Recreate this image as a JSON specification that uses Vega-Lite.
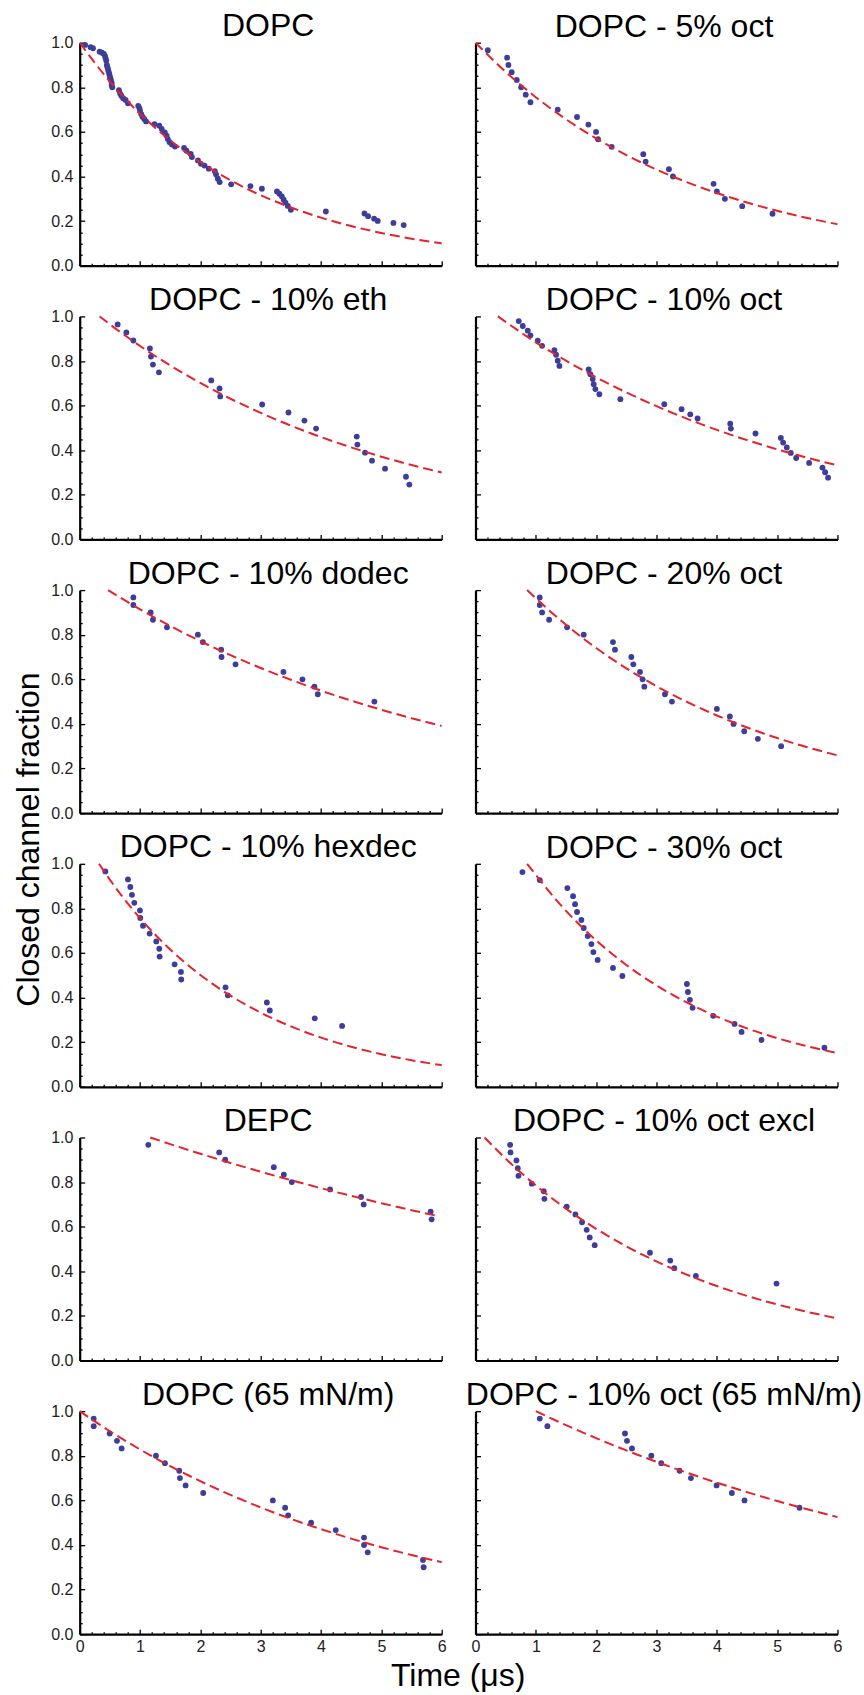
{
"$schema": "https://vega.github.io/schema/vega-lite/v6.json",
"padding": {"left": 11.7, "top": 9.7, "right": 0, "bottom": 0},
"bounds": "flush",
"columns": 2,
"spacing": {"row": 50.7, "column": 33.8},
"datasets": {
"pts": [
{"p":1,"t":0.09,"f":0.99},{"p":1,"t":0.18,"f":0.98},{"p":1,"t":0.22,"f":0.975},{"p":1,"t":0.33,"f":0.96},{"p":1,"t":0.37,"f":0.955},{"p":1,"t":0.40,"f":0.95},{"p":1,"t":0.42,"f":0.94},{"p":1,"t":0.43,"f":0.93},{"p":1,"t":0.44,"f":0.92},{"p":1,"t":0.45,"f":0.90},{"p":1,"t":0.46,"f":0.89},{"p":1,"t":0.47,"f":0.88},{"p":1,"t":0.48,"f":0.87},{"p":1,"t":0.49,"f":0.86},{"p":1,"t":0.50,"f":0.85},{"p":1,"t":0.51,"f":0.84},{"p":1,"t":0.52,"f":0.83},{"p":1,"t":0.53,"f":0.82},{"p":1,"t":0.53,"f":0.81},{"p":1,"t":0.54,"f":0.80},{"p":1,"t":0.65,"f":0.787},{"p":1,"t":0.67,"f":0.772},{"p":1,"t":0.69,"f":0.762},{"p":1,"t":0.72,"f":0.751},{"p":1,"t":0.76,"f":0.743},{"p":1,"t":0.80,"f":0.728},{"p":1,"t":0.97,"f":0.717},{"p":1,"t":0.99,"f":0.707},{"p":1,"t":1.00,"f":0.695},{"p":1,"t":1.02,"f":0.68},{"p":1,"t":1.04,"f":0.668},{"p":1,"t":1.07,"f":0.658},{"p":1,"t":1.10,"f":0.647},{"p":1,"t":1.24,"f":0.635},{"p":1,"t":1.32,"f":0.628},{"p":1,"t":1.36,"f":0.613},{"p":1,"t":1.41,"f":0.598},{"p":1,"t":1.44,"f":0.583},{"p":1,"t":1.46,"f":0.568},{"p":1,"t":1.49,"f":0.554},{"p":1,"t":1.53,"f":0.543},{"p":1,"t":1.58,"f":0.534},{"p":1,"t":1.73,"f":0.528},{"p":1,"t":1.77,"f":0.516},{"p":1,"t":1.84,"f":0.501},{"p":1,"t":1.86,"f":0.487},{"p":1,"t":1.96,"f":0.472},{"p":1,"t":2.01,"f":0.457},{"p":1,"t":2.07,"f":0.449},{"p":1,"t":2.14,"f":0.435},{"p":1,"t":2.24,"f":0.424},{"p":1,"t":2.26,"f":0.409},{"p":1,"t":2.29,"f":0.39},{"p":1,"t":2.32,"f":0.375},{"p":1,"t":2.51,"f":0.365},{"p":1,"t":2.83,"f":0.357},{"p":1,"t":3.02,"f":0.345},{"p":1,"t":3.27,"f":0.333},{"p":1,"t":3.31,"f":0.323},{"p":1,"t":3.35,"f":0.311},{"p":1,"t":3.38,"f":0.296},{"p":1,"t":3.41,"f":0.283},{"p":1,"t":3.45,"f":0.268},{"p":1,"t":3.50,"f":0.251},{"p":1,"t":4.08,"f":0.243},{"p":1,"t":4.72,"f":0.234},{"p":1,"t":4.78,"f":0.222},{"p":1,"t":4.88,"f":0.211},{"p":1,"t":4.94,"f":0.201},{"p":1,"t":5.20,"f":0.192},{"p":1,"t":5.37,"f":0.182},
{"p":2,"t":0.204,"f":0.966},{"p":2,"t":0.524,"f":0.933},{"p":2,"t":0.546,"f":0.9},{"p":2,"t":0.60,"f":0.868},{"p":2,"t":0.684,"f":0.833},{"p":2,"t":0.756,"f":0.8},{"p":2,"t":0.833,"f":0.767},{"p":2,"t":0.911,"f":0.733},{"p":2,"t":1.363,"f":0.7},{"p":2,"t":1.683,"f":0.667},{"p":2,"t":1.871,"f":0.633},{"p":2,"t":1.998,"f":0.6},{"p":2,"t":2.031,"f":0.567},{"p":2,"t":2.257,"f":0.533},{"p":2,"t":2.781,"f":0.5},{"p":2,"t":2.82,"f":0.467},{"p":2,"t":3.206,"f":0.433},{"p":2,"t":3.273,"f":0.4},{"p":2,"t":3.946,"f":0.367},{"p":2,"t":4.001,"f":0.333},{"p":2,"t":4.134,"f":0.3},{"p":2,"t":4.421,"f":0.267},{"p":2,"t":4.923,"f":0.233},
{"p":3,"t":0.629,"f":0.964},{"p":3,"t":0.773,"f":0.928},{"p":3,"t":0.889,"f":0.892},{"p":3,"t":1.164,"f":0.856},{"p":3,"t":1.181,"f":0.82},{"p":3,"t":1.214,"f":0.784},{"p":3,"t":1.313,"f":0.749},{"p":3,"t":2.18,"f":0.713},{"p":3,"t":2.318,"f":0.677},{"p":3,"t":2.329,"f":0.641},{"p":3,"t":3.024,"f":0.605},{"p":3,"t":3.46,"f":0.569},{"p":3,"t":3.725,"f":0.533},{"p":3,"t":3.918,"f":0.497},{"p":3,"t":4.592,"f":0.461},{"p":3,"t":4.603,"f":0.425},{"p":3,"t":4.73,"f":0.389},{"p":3,"t":4.845,"f":0.353},{"p":3,"t":5.061,"f":0.317},{"p":3,"t":5.408,"f":0.281},{"p":3,"t":5.464,"f":0.246},
{"p":4,"t":0.717,"f":0.979},{"p":4,"t":0.784,"f":0.957},{"p":4,"t":0.866,"f":0.936},{"p":4,"t":0.911,"f":0.915},{"p":4,"t":1.032,"f":0.891},{"p":4,"t":1.104,"f":0.868},{"p":4,"t":1.308,"f":0.849},{"p":4,"t":1.336,"f":0.828},{"p":4,"t":1.363,"f":0.801},{"p":4,"t":1.391,"f":0.778},{"p":4,"t":1.876,"f":0.762},{"p":4,"t":1.904,"f":0.741},{"p":4,"t":1.943,"f":0.719},{"p":4,"t":1.959,"f":0.696},{"p":4,"t":1.987,"f":0.674},{"p":4,"t":2.053,"f":0.651},{"p":4,"t":2.401,"f":0.629},{"p":4,"t":3.129,"f":0.606},{"p":4,"t":3.416,"f":0.584},{"p":4,"t":3.56,"f":0.561},{"p":4,"t":3.681,"f":0.542},{"p":4,"t":4.222,"f":0.519},{"p":4,"t":4.233,"f":0.497},{"p":4,"t":4.641,"f":0.475},{"p":4,"t":5.061,"f":0.455},{"p":4,"t":5.099,"f":0.434},{"p":4,"t":5.16,"f":0.412},{"p":4,"t":5.226,"f":0.388},{"p":4,"t":5.315,"f":0.365},{"p":4,"t":5.53,"f":0.343},{"p":4,"t":5.751,"f":0.322},{"p":4,"t":5.795,"f":0.301},{"p":4,"t":5.844,"f":0.277},
{"p":5,"t":0.889,"f":0.967},{"p":5,"t":0.889,"f":0.933},{"p":5,"t":1.176,"f":0.9},{"p":5,"t":1.214,"f":0.867},{"p":5,"t":1.446,"f":0.833},{"p":5,"t":1.959,"f":0.8},{"p":5,"t":2.042,"f":0.767},{"p":5,"t":2.345,"f":0.733},{"p":5,"t":2.351,"f":0.7},{"p":5,"t":2.583,"f":0.667},{"p":5,"t":3.377,"f":0.633},{"p":5,"t":3.692,"f":0.6},{"p":5,"t":3.891,"f":0.567},{"p":5,"t":3.946,"f":0.533},{"p":5,"t":4.884,"f":0.5},
{"p":6,"t":1.065,"f":0.967},{"p":6,"t":1.065,"f":0.933},{"p":6,"t":1.104,"f":0.9},{"p":6,"t":1.22,"f":0.867},{"p":6,"t":1.518,"f":0.833},{"p":6,"t":1.794,"f":0.8},{"p":6,"t":2.279,"f":0.767},{"p":6,"t":2.312,"f":0.733},{"p":6,"t":2.583,"f":0.7},{"p":6,"t":2.616,"f":0.667},{"p":6,"t":2.726,"f":0.633},{"p":6,"t":2.77,"f":0.6},{"p":6,"t":2.798,"f":0.567},{"p":6,"t":3.14,"f":0.533},{"p":6,"t":3.256,"f":0.5},{"p":6,"t":4.001,"f":0.467},{"p":6,"t":4.216,"f":0.433},{"p":6,"t":4.277,"f":0.4},{"p":6,"t":4.454,"f":0.367},{"p":6,"t":4.68,"f":0.333},{"p":6,"t":5.066,"f":0.3},
{"p":7,"t":0.425,"f":0.966},{"p":7,"t":0.80,"f":0.93},{"p":7,"t":0.839,"f":0.896},{"p":7,"t":0.866,"f":0.861},{"p":7,"t":0.905,"f":0.825},{"p":7,"t":0.999,"f":0.791},{"p":7,"t":1.004,"f":0.757},{"p":7,"t":1.049,"f":0.722},{"p":7,"t":1.159,"f":0.687},{"p":7,"t":1.269,"f":0.652},{"p":7,"t":1.319,"f":0.619},{"p":7,"t":1.325,"f":0.584},{"p":7,"t":1.573,"f":0.549},{"p":7,"t":1.678,"f":0.515},{"p":7,"t":1.683,"f":0.481},{"p":7,"t":2.417,"f":0.446},{"p":7,"t":2.456,"f":0.41},{"p":7,"t":3.102,"f":0.378},{"p":7,"t":3.151,"f":0.342},{"p":7,"t":3.896,"f":0.307},{"p":7,"t":4.349,"f":0.273},
{"p":8,"t":0.778,"f":0.963},{"p":8,"t":1.065,"f":0.927},{"p":8,"t":1.523,"f":0.891},{"p":8,"t":1.617,"f":0.855},{"p":8,"t":1.65,"f":0.819},{"p":8,"t":1.683,"f":0.784},{"p":8,"t":1.755,"f":0.748},{"p":8,"t":1.794,"f":0.712},{"p":8,"t":1.86,"f":0.676},{"p":8,"t":1.921,"f":0.64},{"p":8,"t":1.954,"f":0.604},{"p":8,"t":2.025,"f":0.569},{"p":8,"t":2.279,"f":0.533},{"p":8,"t":2.434,"f":0.497},{"p":8,"t":3.504,"f":0.461},{"p":8,"t":3.521,"f":0.425},{"p":8,"t":3.554,"f":0.39},{"p":8,"t":3.598,"f":0.354},{"p":8,"t":3.94,"f":0.318},{"p":8,"t":4.294,"f":0.282},{"p":8,"t":4.41,"f":0.246},{"p":8,"t":4.741,"f":0.21},{"p":8,"t":5.784,"f":0.175},
{"p":9,"t":1.137,"f":0.967},{"p":9,"t":2.312,"f":0.933},{"p":9,"t":2.412,"f":0.9},{"p":9,"t":3.217,"f":0.867},{"p":9,"t":3.383,"f":0.833},{"p":9,"t":3.515,"f":0.8},{"p":9,"t":4.15,"f":0.767},{"p":9,"t":4.663,"f":0.733},{"p":9,"t":4.707,"f":0.7},{"p":9,"t":5.817,"f":0.667},{"p":9,"t":5.833,"f":0.633},
{"p":10,"t":0.574,"f":0.967},{"p":10,"t":0.58,"f":0.933},{"p":10,"t":0.679,"f":0.897},{"p":10,"t":0.701,"f":0.862},{"p":10,"t":0.712,"f":0.828},{"p":10,"t":0.933,"f":0.793},{"p":10,"t":1.131,"f":0.759},{"p":10,"t":1.142,"f":0.725},{"p":10,"t":1.512,"f":0.69},{"p":10,"t":1.656,"f":0.655},{"p":10,"t":1.766,"f":0.62},{"p":10,"t":1.843,"f":0.586},{"p":10,"t":1.893,"f":0.552},{"p":10,"t":1.976,"f":0.517},{"p":10,"t":2.892,"f":0.483},{"p":10,"t":3.228,"f":0.448},{"p":10,"t":3.295,"f":0.414},{"p":10,"t":3.653,"f":0.379},{"p":10,"t":4.989,"f":0.345},
{"p":11,"t":0.232,"f":0.967},{"p":11,"t":0.232,"f":0.933},{"p":11,"t":0.497,"f":0.9},{"p":11,"t":0.618,"f":0.867},{"p":11,"t":0.695,"f":0.833},{"p":11,"t":1.264,"f":0.8},{"p":11,"t":1.413,"f":0.767},{"p":11,"t":1.65,"f":0.733},{"p":11,"t":1.661,"f":0.7},{"p":11,"t":1.755,"f":0.667},{"p":11,"t":2.047,"f":0.633},{"p":11,"t":3.201,"f":0.6},{"p":11,"t":3.405,"f":0.567},{"p":11,"t":3.455,"f":0.533},{"p":11,"t":3.836,"f":0.5},{"p":11,"t":4.244,"f":0.467},{"p":11,"t":4.713,"f":0.433},{"p":11,"t":4.713,"f":0.4},{"p":11,"t":4.774,"f":0.367},{"p":11,"t":5.69,"f":0.333},{"p":11,"t":5.701,"f":0.3},
{"p":12,"t":1.065,"f":0.967},{"p":12,"t":1.192,"f":0.933},{"p":12,"t":2.478,"f":0.9},{"p":12,"t":2.511,"f":0.867},{"p":12,"t":2.594,"f":0.833},{"p":12,"t":2.914,"f":0.8},{"p":12,"t":3.079,"f":0.767},{"p":12,"t":3.383,"f":0.733},{"p":12,"t":3.571,"f":0.7},{"p":12,"t":3.996,"f":0.667},{"p":12,"t":4.249,"f":0.633},{"p":12,"t":4.459,"f":0.6},{"p":12,"t":5.37,"f":0.567}
],
"fit": [
{"p":1,"t":0,"f":1},{"p":1,"t":0.5,"f":0.8254},{"p":1,"t":1,"f":0.6813},{"p":1,"t":1.5,"f":0.5623},{"p":1,"t":2,"f":0.4641},{"p":1,"t":2.5,"f":0.3831},{"p":1,"t":3,"f":0.3162},{"p":1,"t":3.5,"f":0.261},{"p":1,"t":4,"f":0.2154},{"p":1,"t":4.5,"f":0.1778},{"p":1,"t":5,"f":0.1468},{"p":1,"t":5.5,"f":0.1211},{"p":1,"t":6,"f":0.1},
{"p":2,"t":0,"f":1},{"p":2,"t":0.5,"f":0.8692},{"p":2,"t":1,"f":0.7556},{"p":2,"t":1.5,"f":0.6567},{"p":2,"t":2,"f":0.5709},{"p":2,"t":2.5,"f":0.4962},{"p":2,"t":3,"f":0.4313},{"p":2,"t":3.5,"f":0.3749},{"p":2,"t":4,"f":0.3259},{"p":2,"t":4.5,"f":0.2833},{"p":2,"t":5,"f":0.2462},{"p":2,"t":5.5,"f":0.214},{"p":2,"t":6,"f":0.186},
{"p":3,"t":0.33,"f":1},{"p":3,"t":0.5,"f":0.9645},{"p":3,"t":1,"f":0.8674},{"p":3,"t":1.5,"f":0.78},{"p":3,"t":2,"f":0.7014},{"p":3,"t":2.5,"f":0.6308},{"p":3,"t":3,"f":0.5673},{"p":3,"t":3.5,"f":0.5102},{"p":3,"t":4,"f":0.4588},{"p":3,"t":4.5,"f":0.4126},{"p":3,"t":5,"f":0.371},{"p":3,"t":5.5,"f":0.3337},{"p":3,"t":6,"f":0.3},
{"p":4,"t":0.37,"f":1},{"p":4,"t":1,"f":0.8839},{"p":4,"t":1.5,"f":0.8015},{"p":4,"t":2,"f":0.7267},{"p":4,"t":2.5,"f":0.6589},{"p":4,"t":3,"f":0.5975},{"p":4,"t":3.5,"f":0.5417},{"p":4,"t":4,"f":0.4912},{"p":4,"t":4.5,"f":0.4454},{"p":4,"t":5,"f":0.4038},{"p":4,"t":5.5,"f":0.3662},{"p":4,"t":6,"f":0.332},
{"p":5,"t":0.47,"f":1},{"p":5,"t":1,"f":0.9139},{"p":5,"t":1.5,"f":0.8395},{"p":5,"t":2,"f":0.7712},{"p":5,"t":2.5,"f":0.7084},{"p":5,"t":3,"f":0.6508},{"p":5,"t":3.5,"f":0.5978},{"p":5,"t":4,"f":0.5491},{"p":5,"t":4.5,"f":0.5044},{"p":5,"t":5,"f":0.4634},{"p":5,"t":5.5,"f":0.4257},{"p":5,"t":6,"f":0.391},
{"p":6,"t":0.855,"f":1},{"p":6,"t":1.5,"f":0.8442},{"p":6,"t":2,"f":0.7403},{"p":6,"t":2.5,"f":0.6492},{"p":6,"t":3,"f":0.5693},{"p":6,"t":3.5,"f":0.4993},{"p":6,"t":4,"f":0.4378},{"p":6,"t":4.5,"f":0.384},{"p":6,"t":5,"f":0.3367},{"p":6,"t":5.5,"f":0.2953},{"p":6,"t":6,"f":0.259},
{"p":7,"t":0.32,"f":1},{"p":7,"t":0.5,"f":0.9287},{"p":7,"t":1,"f":0.7563},{"p":7,"t":1.5,"f":0.6159},{"p":7,"t":2,"f":0.5016},{"p":7,"t":2.5,"f":0.4085},{"p":7,"t":3,"f":0.3327},{"p":7,"t":3.5,"f":0.2709},{"p":7,"t":4,"f":0.2206},{"p":7,"t":4.5,"f":0.1797},{"p":7,"t":5,"f":0.1463},{"p":7,"t":5.5,"f":0.1192},{"p":7,"t":6,"f":0.097},
{"p":8,"t":0.855,"f":1},{"p":8,"t":1.5,"f":0.789},{"p":8,"t":2,"f":0.6566},{"p":8,"t":2.5,"f":0.5464},{"p":8,"t":3,"f":0.4547},{"p":8,"t":3.5,"f":0.3784},{"p":8,"t":4,"f":0.3149},{"p":8,"t":4.5,"f":0.2621},{"p":8,"t":5,"f":0.2181},{"p":8,"t":5.5,"f":0.1815},{"p":8,"t":6,"f":0.151},
{"p":9,"t":1.17,"f":1},{"p":9,"t":1.5,"f":0.9704},{"p":9,"t":2,"f":0.9272},{"p":9,"t":2.5,"f":0.8859},{"p":9,"t":3,"f":0.8465},{"p":9,"t":3.5,"f":0.8088},{"p":9,"t":4,"f":0.7728},{"p":9,"t":4.5,"f":0.7384},{"p":9,"t":5,"f":0.7055},{"p":9,"t":5.5,"f":0.6741},{"p":9,"t":5.9,"f":0.65},
{"p":10,"t":0.15,"f":1},{"p":10,"t":0.5,"f":0.9051},{"p":10,"t":1,"f":0.785},{"p":10,"t":1.5,"f":0.6808},{"p":10,"t":2,"f":0.5904},{"p":10,"t":2.5,"f":0.5121},{"p":10,"t":3,"f":0.4441},{"p":10,"t":3.5,"f":0.3852},{"p":10,"t":4,"f":0.334},{"p":10,"t":4.5,"f":0.2897},{"p":10,"t":5,"f":0.2512},{"p":10,"t":5.5,"f":0.2179},{"p":10,"t":6,"f":0.189},
{"p":11,"t":0,"f":1},{"p":11,"t":0.5,"f":0.9101},{"p":11,"t":1,"f":0.8283},{"p":11,"t":1.5,"f":0.7539},{"p":11,"t":2,"f":0.6862},{"p":11,"t":2.5,"f":0.6245},{"p":11,"t":3,"f":0.5684},{"p":11,"t":3.5,"f":0.5173},{"p":11,"t":4,"f":0.4708},{"p":11,"t":4.5,"f":0.4285},{"p":11,"t":5,"f":0.39},{"p":11,"t":5.5,"f":0.355},{"p":11,"t":6,"f":0.3231},
{"p":12,"t":1,"f":1},{"p":12,"t":1.5,"f":0.9376},{"p":12,"t":2,"f":0.8791},{"p":12,"t":2.5,"f":0.8242},{"p":12,"t":3,"f":0.7728},{"p":12,"t":3.5,"f":0.7246},{"p":12,"t":4,"f":0.6794},{"p":12,"t":4.5,"f":0.637},{"p":12,"t":5,"f":0.5973},{"p":12,"t":5.5,"f":0.56},{"p":12,"t":6,"f":0.525}
]
},
"concat": [
{"title": {"text": "DOPC", "offset": -8.6}, "width": 362, "height": 223,
 "encoding": {"x": {"field": "t", "type": "quantitative", "scale": {"domain": [0, 6], "nice": false}, "axis": {"title": null, "labels": false, "values": [0,0.2,0.4,0.6,0.8,1,1.2,1.4,1.6,1.8,2,2.2,2.4,2.6,2.8,3,3.2,3.4,3.6,3.8,4,4.2,4.4,4.6,4.8,5,5.2,5.4,5.6,5.8,6], "tickSize": {"condition": {"test": "abs(datum.value-round(datum.value))<0.001", "value": -5}, "value": -2.5}}},
  "y": {"field": "f", "type": "quantitative", "scale": {"domain": [0, 1], "nice": false}, "axis": {"title": null, "values": [0,0.05,0.1,0.15,0.2,0.25,0.3,0.35,0.4,0.45,0.5,0.55,0.6,0.65,0.7,0.75,0.8,0.85,0.9,0.95,1], "labelExpr": "abs(datum.value*5-round(datum.value*5))<0.001 ? format(datum.value, '.1f') : ''", "labelPadding": 11.8, "tickSize": {"condition": {"test": "abs(datum.value*5-round(datum.value*5))<0.001", "value": -5}, "value": -2.5}}}},
 "layer": [{"data": {"name": "pts"}, "transform": [{"filter": "datum.p === 1"}], "mark": "circle", "encoding": {}}, {"data": {"name": "fit"}, "transform": [{"filter": "datum.p === 1"}], "mark": "line", "encoding": {}}]},
{"title": {"text": "DOPC - 5% oct", "offset": -5}, "width": 362, "height": 223,
 "encoding": {"x": {"field": "t", "type": "quantitative", "scale": {"domain": [0, 6], "nice": false}, "axis": {"title": null, "labels": false, "values": [0,0.2,0.4,0.6,0.8,1,1.2,1.4,1.6,1.8,2,2.2,2.4,2.6,2.8,3,3.2,3.4,3.6,3.8,4,4.2,4.4,4.6,4.8,5,5.2,5.4,5.6,5.8,6], "tickSize": {"condition": {"test": "abs(datum.value-round(datum.value))<0.001", "value": -5}, "value": -2.5}}},
  "y": {"field": "f", "type": "quantitative", "scale": {"domain": [0, 1], "nice": false}, "axis": {"title": null, "labels": false, "values": [0,0.05,0.1,0.15,0.2,0.25,0.3,0.35,0.4,0.45,0.5,0.55,0.6,0.65,0.7,0.75,0.8,0.85,0.9,0.95,1], "tickSize": {"condition": {"test": "abs(datum.value*5-round(datum.value*5))<0.001", "value": -5}, "value": -2.5}}}},
 "layer": [{"data": {"name": "pts"}, "transform": [{"filter": "datum.p === 2"}], "mark": "circle", "encoding": {}}, {"data": {"name": "fit"}, "transform": [{"filter": "datum.p === 2"}], "mark": "line", "encoding": {}}]},
{"title": {"text": "DOPC - 10% eth", "offset": -8.6}, "width": 362, "height": 223,
 "encoding": {"x": {"field": "t", "type": "quantitative", "scale": {"domain": [0, 6], "nice": false}, "axis": {"title": null, "labels": false, "values": [0,0.2,0.4,0.6,0.8,1,1.2,1.4,1.6,1.8,2,2.2,2.4,2.6,2.8,3,3.2,3.4,3.6,3.8,4,4.2,4.4,4.6,4.8,5,5.2,5.4,5.6,5.8,6], "tickSize": {"condition": {"test": "abs(datum.value-round(datum.value))<0.001", "value": -5}, "value": -2.5}}},
  "y": {"field": "f", "type": "quantitative", "scale": {"domain": [0, 1], "nice": false}, "axis": {"title": null, "values": [0,0.05,0.1,0.15,0.2,0.25,0.3,0.35,0.4,0.45,0.5,0.55,0.6,0.65,0.7,0.75,0.8,0.85,0.9,0.95,1], "labelExpr": "abs(datum.value*5-round(datum.value*5))<0.001 ? format(datum.value, '.1f') : ''", "labelPadding": 11.8, "tickSize": {"condition": {"test": "abs(datum.value*5-round(datum.value*5))<0.001", "value": -5}, "value": -2.5}}}},
 "layer": [{"data": {"name": "pts"}, "transform": [{"filter": "datum.p === 3"}], "mark": "circle", "encoding": {}}, {"data": {"name": "fit"}, "transform": [{"filter": "datum.p === 3"}], "mark": "line", "encoding": {}}]},
{"title": {"text": "DOPC - 10% oct", "offset": -5}, "width": 362, "height": 223,
 "encoding": {"x": {"field": "t", "type": "quantitative", "scale": {"domain": [0, 6], "nice": false}, "axis": {"title": null, "labels": false, "values": [0,0.2,0.4,0.6,0.8,1,1.2,1.4,1.6,1.8,2,2.2,2.4,2.6,2.8,3,3.2,3.4,3.6,3.8,4,4.2,4.4,4.6,4.8,5,5.2,5.4,5.6,5.8,6], "tickSize": {"condition": {"test": "abs(datum.value-round(datum.value))<0.001", "value": -5}, "value": -2.5}}},
  "y": {"field": "f", "type": "quantitative", "scale": {"domain": [0, 1], "nice": false}, "axis": {"title": null, "labels": false, "values": [0,0.05,0.1,0.15,0.2,0.25,0.3,0.35,0.4,0.45,0.5,0.55,0.6,0.65,0.7,0.75,0.8,0.85,0.9,0.95,1], "tickSize": {"condition": {"test": "abs(datum.value*5-round(datum.value*5))<0.001", "value": -5}, "value": -2.5}}}},
 "layer": [{"data": {"name": "pts"}, "transform": [{"filter": "datum.p === 4"}], "mark": "circle", "encoding": {}}, {"data": {"name": "fit"}, "transform": [{"filter": "datum.p === 4"}], "mark": "line", "encoding": {}}]},
{"title": {"text": "DOPC - 10% dodec", "offset": -8.6}, "width": 362, "height": 223,
 "encoding": {"x": {"field": "t", "type": "quantitative", "scale": {"domain": [0, 6], "nice": false}, "axis": {"title": null, "labels": false, "values": [0,0.2,0.4,0.6,0.8,1,1.2,1.4,1.6,1.8,2,2.2,2.4,2.6,2.8,3,3.2,3.4,3.6,3.8,4,4.2,4.4,4.6,4.8,5,5.2,5.4,5.6,5.8,6], "tickSize": {"condition": {"test": "abs(datum.value-round(datum.value))<0.001", "value": -5}, "value": -2.5}}},
  "y": {"field": "f", "type": "quantitative", "scale": {"domain": [0, 1], "nice": false}, "axis": {"title": "Closed channel fraction", "titleX": -41.5, "titleY": 249, "titleAngle": -90, "titleAlign": "center", "titleBaseline": "alphabetic", "values": [0,0.05,0.1,0.15,0.2,0.25,0.3,0.35,0.4,0.45,0.5,0.55,0.6,0.65,0.7,0.75,0.8,0.85,0.9,0.95,1], "labelExpr": "abs(datum.value*5-round(datum.value*5))<0.001 ? format(datum.value, '.1f') : ''", "labelPadding": 11.8, "tickSize": {"condition": {"test": "abs(datum.value*5-round(datum.value*5))<0.001", "value": -5}, "value": -2.5}}}},
 "layer": [{"data": {"name": "pts"}, "transform": [{"filter": "datum.p === 5"}], "mark": "circle", "encoding": {}}, {"data": {"name": "fit"}, "transform": [{"filter": "datum.p === 5"}], "mark": "line", "encoding": {}}]},
{"title": {"text": "DOPC - 20% oct", "offset": -5}, "width": 362, "height": 223,
 "encoding": {"x": {"field": "t", "type": "quantitative", "scale": {"domain": [0, 6], "nice": false}, "axis": {"title": null, "labels": false, "values": [0,0.2,0.4,0.6,0.8,1,1.2,1.4,1.6,1.8,2,2.2,2.4,2.6,2.8,3,3.2,3.4,3.6,3.8,4,4.2,4.4,4.6,4.8,5,5.2,5.4,5.6,5.8,6], "tickSize": {"condition": {"test": "abs(datum.value-round(datum.value))<0.001", "value": -5}, "value": -2.5}}},
  "y": {"field": "f", "type": "quantitative", "scale": {"domain": [0, 1], "nice": false}, "axis": {"title": null, "labels": false, "values": [0,0.05,0.1,0.15,0.2,0.25,0.3,0.35,0.4,0.45,0.5,0.55,0.6,0.65,0.7,0.75,0.8,0.85,0.9,0.95,1], "tickSize": {"condition": {"test": "abs(datum.value*5-round(datum.value*5))<0.001", "value": -5}, "value": -2.5}}}},
 "layer": [{"data": {"name": "pts"}, "transform": [{"filter": "datum.p === 6"}], "mark": "circle", "encoding": {}}, {"data": {"name": "fit"}, "transform": [{"filter": "datum.p === 6"}], "mark": "line", "encoding": {}}]},
{"title": {"text": "DOPC - 10% hexdec", "offset": -8.6}, "width": 362, "height": 223,
 "encoding": {"x": {"field": "t", "type": "quantitative", "scale": {"domain": [0, 6], "nice": false}, "axis": {"title": null, "labels": false, "values": [0,0.2,0.4,0.6,0.8,1,1.2,1.4,1.6,1.8,2,2.2,2.4,2.6,2.8,3,3.2,3.4,3.6,3.8,4,4.2,4.4,4.6,4.8,5,5.2,5.4,5.6,5.8,6], "tickSize": {"condition": {"test": "abs(datum.value-round(datum.value))<0.001", "value": -5}, "value": -2.5}}},
  "y": {"field": "f", "type": "quantitative", "scale": {"domain": [0, 1], "nice": false}, "axis": {"title": null, "values": [0,0.05,0.1,0.15,0.2,0.25,0.3,0.35,0.4,0.45,0.5,0.55,0.6,0.65,0.7,0.75,0.8,0.85,0.9,0.95,1], "labelExpr": "abs(datum.value*5-round(datum.value*5))<0.001 ? format(datum.value, '.1f') : ''", "labelPadding": 11.8, "tickSize": {"condition": {"test": "abs(datum.value*5-round(datum.value*5))<0.001", "value": -5}, "value": -2.5}}}},
 "layer": [{"data": {"name": "pts"}, "transform": [{"filter": "datum.p === 7"}], "mark": "circle", "encoding": {}}, {"data": {"name": "fit"}, "transform": [{"filter": "datum.p === 7"}], "mark": "line", "encoding": {}}]},
{"title": {"text": "DOPC - 30% oct", "offset": -5}, "width": 362, "height": 223,
 "encoding": {"x": {"field": "t", "type": "quantitative", "scale": {"domain": [0, 6], "nice": false}, "axis": {"title": null, "labels": false, "values": [0,0.2,0.4,0.6,0.8,1,1.2,1.4,1.6,1.8,2,2.2,2.4,2.6,2.8,3,3.2,3.4,3.6,3.8,4,4.2,4.4,4.6,4.8,5,5.2,5.4,5.6,5.8,6], "tickSize": {"condition": {"test": "abs(datum.value-round(datum.value))<0.001", "value": -5}, "value": -2.5}}},
  "y": {"field": "f", "type": "quantitative", "scale": {"domain": [0, 1], "nice": false}, "axis": {"title": null, "labels": false, "values": [0,0.05,0.1,0.15,0.2,0.25,0.3,0.35,0.4,0.45,0.5,0.55,0.6,0.65,0.7,0.75,0.8,0.85,0.9,0.95,1], "tickSize": {"condition": {"test": "abs(datum.value*5-round(datum.value*5))<0.001", "value": -5}, "value": -2.5}}}},
 "layer": [{"data": {"name": "pts"}, "transform": [{"filter": "datum.p === 8"}], "mark": "circle", "encoding": {}}, {"data": {"name": "fit"}, "transform": [{"filter": "datum.p === 8"}], "mark": "line", "encoding": {}}]},
{"title": {"text": "DEPC", "offset": -8.6}, "width": 362, "height": 223,
 "encoding": {"x": {"field": "t", "type": "quantitative", "scale": {"domain": [0, 6], "nice": false}, "axis": {"title": null, "labels": false, "values": [0,0.2,0.4,0.6,0.8,1,1.2,1.4,1.6,1.8,2,2.2,2.4,2.6,2.8,3,3.2,3.4,3.6,3.8,4,4.2,4.4,4.6,4.8,5,5.2,5.4,5.6,5.8,6], "tickSize": {"condition": {"test": "abs(datum.value-round(datum.value))<0.001", "value": -5}, "value": -2.5}}},
  "y": {"field": "f", "type": "quantitative", "scale": {"domain": [0, 1], "nice": false}, "axis": {"title": null, "values": [0,0.05,0.1,0.15,0.2,0.25,0.3,0.35,0.4,0.45,0.5,0.55,0.6,0.65,0.7,0.75,0.8,0.85,0.9,0.95,1], "labelExpr": "abs(datum.value*5-round(datum.value*5))<0.001 ? format(datum.value, '.1f') : ''", "labelPadding": 11.8, "tickSize": {"condition": {"test": "abs(datum.value*5-round(datum.value*5))<0.001", "value": -5}, "value": -2.5}}}},
 "layer": [{"data": {"name": "pts"}, "transform": [{"filter": "datum.p === 9"}], "mark": "circle", "encoding": {}}, {"data": {"name": "fit"}, "transform": [{"filter": "datum.p === 9"}], "mark": "line", "encoding": {}}]},
{"title": {"text": "DOPC - 10% oct excl", "offset": -5}, "width": 362, "height": 223,
 "encoding": {"x": {"field": "t", "type": "quantitative", "scale": {"domain": [0, 6], "nice": false}, "axis": {"title": null, "labels": false, "values": [0,0.2,0.4,0.6,0.8,1,1.2,1.4,1.6,1.8,2,2.2,2.4,2.6,2.8,3,3.2,3.4,3.6,3.8,4,4.2,4.4,4.6,4.8,5,5.2,5.4,5.6,5.8,6], "tickSize": {"condition": {"test": "abs(datum.value-round(datum.value))<0.001", "value": -5}, "value": -2.5}}},
  "y": {"field": "f", "type": "quantitative", "scale": {"domain": [0, 1], "nice": false}, "axis": {"title": null, "labels": false, "values": [0,0.05,0.1,0.15,0.2,0.25,0.3,0.35,0.4,0.45,0.5,0.55,0.6,0.65,0.7,0.75,0.8,0.85,0.9,0.95,1], "tickSize": {"condition": {"test": "abs(datum.value*5-round(datum.value*5))<0.001", "value": -5}, "value": -2.5}}}},
 "layer": [{"data": {"name": "pts"}, "transform": [{"filter": "datum.p === 10"}], "mark": "circle", "encoding": {}}, {"data": {"name": "fit"}, "transform": [{"filter": "datum.p === 10"}], "mark": "line", "encoding": {}}]},
{"title": {"text": "DOPC (65 mN/m)", "offset": -8.6}, "width": 362, "height": 223,
 "encoding": {"x": {"field": "t", "type": "quantitative", "scale": {"domain": [0, 6], "nice": false}, "axis": {"title": "Time (μs)", "titleX": 378, "titleY": 51, "titleAlign": "center", "titleBaseline": "alphabetic", "values": [0,0.2,0.4,0.6,0.8,1,1.2,1.4,1.6,1.8,2,2.2,2.4,2.6,2.8,3,3.2,3.4,3.6,3.8,4,4.2,4.4,4.6,4.8,5,5.2,5.4,5.6,5.8,6], "labelExpr": "abs(datum.value-round(datum.value))<0.001 ? format(datum.value, 'd') : ''", "labelPadding": 9.5, "tickSize": {"condition": {"test": "abs(datum.value-round(datum.value))<0.001", "value": -5}, "value": -2.5}}},
  "y": {"field": "f", "type": "quantitative", "scale": {"domain": [0, 1], "nice": false}, "axis": {"title": null, "values": [0,0.05,0.1,0.15,0.2,0.25,0.3,0.35,0.4,0.45,0.5,0.55,0.6,0.65,0.7,0.75,0.8,0.85,0.9,0.95,1], "labelExpr": "abs(datum.value*5-round(datum.value*5))<0.001 ? format(datum.value, '.1f') : ''", "labelPadding": 11.8, "tickSize": {"condition": {"test": "abs(datum.value*5-round(datum.value*5))<0.001", "value": -5}, "value": -2.5}}}},
 "layer": [{"data": {"name": "pts"}, "transform": [{"filter": "datum.p === 11"}], "mark": "circle", "encoding": {}}, {"data": {"name": "fit"}, "transform": [{"filter": "datum.p === 11"}], "mark": "line", "encoding": {}}]},
{"title": {"text": "DOPC - 10% oct (65 mN/m)", "offset": -5}, "width": 362, "height": 223,
 "encoding": {"x": {"field": "t", "type": "quantitative", "scale": {"domain": [0, 6], "nice": false}, "axis": {"title": null, "values": [0,0.2,0.4,0.6,0.8,1,1.2,1.4,1.6,1.8,2,2.2,2.4,2.6,2.8,3,3.2,3.4,3.6,3.8,4,4.2,4.4,4.6,4.8,5,5.2,5.4,5.6,5.8,6], "labelExpr": "abs(datum.value-round(datum.value))<0.001 ? format(datum.value, 'd') : ''", "labelPadding": 9.5, "tickSize": {"condition": {"test": "abs(datum.value-round(datum.value))<0.001", "value": -5}, "value": -2.5}}},
  "y": {"field": "f", "type": "quantitative", "scale": {"domain": [0, 1], "nice": false}, "axis": {"title": null, "labels": false, "values": [0,0.05,0.1,0.15,0.2,0.25,0.3,0.35,0.4,0.45,0.5,0.55,0.6,0.65,0.7,0.75,0.8,0.85,0.9,0.95,1], "tickSize": {"condition": {"test": "abs(datum.value*5-round(datum.value*5))<0.001", "value": -5}, "value": -2.5}}}},
 "layer": [{"data": {"name": "pts"}, "transform": [{"filter": "datum.p === 12"}], "mark": "circle", "encoding": {}}, {"data": {"name": "fit"}, "transform": [{"filter": "datum.p === 12"}], "mark": "line", "encoding": {}}]}
],
"config": {
 "view": {"stroke": null},
 "font": "Liberation Sans",
 "axis": {"domainColor": "#000", "domainWidth": 2.2, "tickColor": "#000", "tickWidth": 1.3, "labelFont": "Liberation Sans", "labelFontSize": 16, "labelColor": "#222", "labelFlush": false, "labelOverlap": false, "grid": false, "titleFont": "Liberation Sans", "titleFontWeight": "normal", "titleColor": "#000", "titleFontSize": 32},
 "title": {"font": "Liberation Sans", "fontSize": 32, "fontWeight": "normal", "color": "#000", "anchor": "middle", "frame": "group", "baseline": "alphabetic", "dx": 7.5},
 "line": {"color": "#e4232b", "strokeWidth": 2, "strokeDash": [10, 5], "interpolate": "monotone"},
 "circle": {"color": "#3d3d9c", "size": 34, "opacity": 1}
}
}
